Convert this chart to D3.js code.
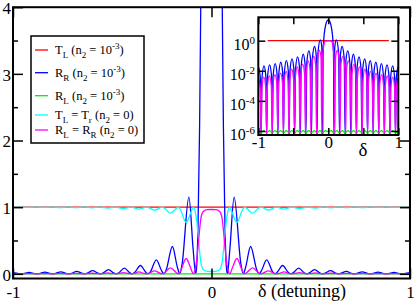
<!DOCTYPE html>
<html>
<head>
<meta charset="utf-8">
<script src="https://cdn.jsdelivr.net/npm/d3@7"></script>
<style>
  html, body { margin: 0; padding: 0; background: #fff; }
  svg { display: block; font-family: "Liberation Serif", "Times New Roman", Times, "DejaVu Serif", serif; }
  text { white-space: pre; }
</style>
</head>
<body>
<svg id="chart" width="415" height="305"></svg>
<script>
// ---- data (delta, value) ----
// T_L (n2 = 1e-3): flat at 1
var tL = [[-1, 1], [1, 1]];
var tLInset = [[-0.865, 1], [0.865, 1]];

// R_R (n2 = 1e-3)
var rR = [
  [-1.0, 0.018], [-0.999, 0.018], [-0.972, 0.0036], [-0.96, 0],
  [-0.948, 0.0032], [-0.919, 0.021], [-0.892, 0.0042], [-0.88, 0],
  [-0.868, 0.0038], [-0.839, 0.025], [-0.812, 0.005], [-0.80, 0],
  [-0.788, 0.0045], [-0.759, 0.03], [-0.732, 0.006], [-0.72, 0],
  [-0.708, 0.0055], [-0.679, 0.037], [-0.652, 0.0075], [-0.64, 0],
  [-0.628, 0.007], [-0.599, 0.047], [-0.572, 0.01], [-0.56, 0],
  [-0.548, 0.009], [-0.519, 0.062], [-0.492, 0.013], [-0.48, 0],
  [-0.468, 0.013], [-0.439, 0.085], [-0.412, 0.018], [-0.40, 0],
  [-0.388, 0.018], [-0.358, 0.125], [-0.332, 0.027], [-0.32, 0],
  [-0.308, 0.03], [-0.278, 0.21], [-0.252, 0.05], [-0.24, 0],
  [-0.228, 0.06], [-0.197, 0.41], [-0.172, 0.1], [-0.16, 0],
  [-0.148, 0.15], [-0.114, 1.15], [-0.092, 0.35], [-0.08, 0],
  [-0.075, 0.1], [-0.068, 0.7], [-0.06, 2.2], [-0.05, 5.3], [-0.04, 9.7],
  [-0.03, 14.8], [-0.02, 19.5], [-0.01, 22.8], [0, 24],
  [0.01, 22.8], [0.02, 19.5], [0.03, 14.8], [0.04, 9.7], [0.05, 5.3],
  [0.06, 2.2], [0.068, 0.7], [0.075, 0.1],
  [0.08, 0], [0.092, 0.35], [0.114, 1.15], [0.148, 0.15],
  [0.16, 0], [0.172, 0.1], [0.197, 0.41], [0.228, 0.06],
  [0.24, 0], [0.252, 0.05], [0.278, 0.21], [0.308, 0.03],
  [0.32, 0], [0.332, 0.027], [0.358, 0.125], [0.388, 0.018],
  [0.40, 0], [0.412, 0.018], [0.439, 0.085], [0.468, 0.013],
  [0.48, 0], [0.492, 0.013], [0.519, 0.062], [0.548, 0.009],
  [0.56, 0], [0.572, 0.01], [0.599, 0.047], [0.628, 0.007],
  [0.64, 0], [0.652, 0.0075], [0.679, 0.037], [0.708, 0.0055],
  [0.72, 0], [0.732, 0.006], [0.759, 0.03], [0.788, 0.0045],
  [0.80, 0], [0.812, 0.005], [0.839, 0.025], [0.868, 0.0038],
  [0.88, 0], [0.892, 0.0042], [0.919, 0.021], [0.948, 0.0032],
  [0.96, 0], [0.972, 0.0036], [0.999, 0.018], [1.0, 0.018]
];

// R_L (n2 = 1e-3): ~1e-6 with small ripples
var rL = [
  [-1.0, 1.0e-6], [-0.96, 0.78e-6], [-0.92, 1.05e-6], [-0.88, 0.78e-6], [-0.84, 1.05e-6],
  [-0.80, 0.78e-6], [-0.76, 1.05e-6], [-0.72, 0.78e-6], [-0.68, 1.05e-6], [-0.64, 0.78e-6],
  [-0.60, 1.05e-6], [-0.56, 0.78e-6], [-0.52, 1.05e-6], [-0.48, 0.78e-6], [-0.44, 1.05e-6],
  [-0.40, 0.78e-6], [-0.36, 1.05e-6], [-0.32, 0.78e-6], [-0.28, 1.05e-6], [-0.24, 0.78e-6],
  [-0.20, 1.05e-6], [-0.16, 0.78e-6], [-0.12, 1.05e-6], [-0.08, 0.78e-6], [-0.04, 1.05e-6],
  [0, 0.9e-6],
  [0.04, 1.05e-6], [0.08, 0.78e-6], [0.12, 1.05e-6], [0.16, 0.78e-6], [0.20, 1.05e-6],
  [0.24, 0.78e-6], [0.28, 1.05e-6], [0.32, 0.78e-6], [0.36, 1.05e-6], [0.40, 0.78e-6],
  [0.44, 1.05e-6], [0.48, 0.78e-6], [0.52, 1.05e-6], [0.56, 0.78e-6], [0.60, 1.05e-6],
  [0.64, 0.78e-6], [0.68, 1.05e-6], [0.72, 0.78e-6], [0.76, 1.05e-6], [0.80, 0.78e-6],
  [0.84, 1.05e-6], [0.88, 0.78e-6], [0.92, 1.05e-6], [0.96, 0.78e-6], [1.0, 1.0e-6]
];

// T_L = T_r (n2 = 0)
var tN0 = [
  [-1.0, 0.997], [-0.96, 1], [-0.921, 0.996], [-0.882, 1], [-0.842, 0.996], [-0.802, 1],
  [-0.762, 0.995], [-0.722, 1], [-0.682, 0.993], [-0.642, 1], [-0.602, 0.991], [-0.562, 1],
  [-0.523, 0.987], [-0.484, 1], [-0.444, 0.982], [-0.405, 1], [-0.366, 0.972], [-0.327, 1],
  [-0.287, 0.955], [-0.248, 1], [-0.236, 0.984], [-0.207, 0.91], [-0.18, 0.975], [-0.168, 1],
  [-0.156, 0.96], [-0.128, 0.77], [-0.104, 0.92], [-0.092, 1],
  [-0.082, 0.93], [-0.074, 0.78], [-0.067, 0.57], [-0.06, 0.34], [-0.053, 0.16],
  [-0.045, 0.08], [-0.035, 0.05], [-0.02, 0.038], [0, 0.035],
  [0.02, 0.038], [0.035, 0.05], [0.045, 0.08], [0.053, 0.16], [0.06, 0.34],
  [0.067, 0.57], [0.074, 0.78], [0.082, 0.93], [0.092, 1],
  [0.104, 0.92], [0.128, 0.77], [0.156, 0.96], [0.168, 1],
  [0.18, 0.975], [0.207, 0.91], [0.236, 0.984], [0.248, 1],
  [0.287, 0.955], [0.327, 1], [0.366, 0.972], [0.405, 1], [0.444, 0.982], [0.484, 1],
  [0.523, 0.987], [0.562, 1], [0.602, 0.991], [0.642, 1], [0.682, 0.993], [0.722, 1],
  [0.762, 0.995], [0.802, 1], [0.842, 0.996], [0.882, 1], [0.921, 0.996], [0.96, 1], [1.0, 0.997]
];

// R_L = R_R (n2 = 0)
var rN0 = [
  [-1.0, 0.0032], [-0.998, 0.0032], [-0.972, 0.0007], [-0.96, 0],
  [-0.948, 0.0007], [-0.921, 0.0038], [-0.894, 0.0008], [-0.882, 0],
  [-0.87, 0.0009], [-0.842, 0.0045], [-0.814, 0.001], [-0.802, 0],
  [-0.79, 0.001], [-0.762, 0.0055], [-0.734, 0.0012], [-0.722, 0],
  [-0.71, 0.0013], [-0.682, 0.007], [-0.654, 0.0015], [-0.642, 0],
  [-0.63, 0.0017], [-0.602, 0.009], [-0.574, 0.0019], [-0.562, 0],
  [-0.55, 0.0025], [-0.523, 0.013], [-0.496, 0.0027], [-0.484, 0],
  [-0.472, 0.0034], [-0.444, 0.018], [-0.417, 0.0038], [-0.405, 0],
  [-0.393, 0.005], [-0.366, 0.028], [-0.339, 0.006], [-0.327, 0],
  [-0.315, 0.008], [-0.287, 0.045], [-0.26, 0.011], [-0.248, 0],
  [-0.236, 0.016], [-0.207, 0.09], [-0.18, 0.025], [-0.168, 0],
  [-0.156, 0.04], [-0.128, 0.23], [-0.104, 0.08], [-0.092, 0],
  [-0.082, 0.07], [-0.074, 0.22], [-0.067, 0.43], [-0.06, 0.66], [-0.053, 0.84],
  [-0.045, 0.92], [-0.035, 0.95], [-0.02, 0.962], [0, 0.965],
  [0.02, 0.962], [0.035, 0.95], [0.045, 0.92], [0.053, 0.84], [0.06, 0.66],
  [0.067, 0.43], [0.074, 0.22], [0.082, 0.07], [0.092, 0],
  [0.104, 0.08], [0.128, 0.23], [0.156, 0.04], [0.168, 0],
  [0.18, 0.025], [0.207, 0.09], [0.236, 0.016], [0.248, 0],
  [0.26, 0.011], [0.287, 0.045], [0.315, 0.008], [0.327, 0],
  [0.339, 0.006], [0.366, 0.028], [0.393, 0.005], [0.405, 0],
  [0.417, 0.0038], [0.444, 0.018], [0.472, 0.0034], [0.484, 0],
  [0.496, 0.0027], [0.523, 0.013], [0.55, 0.0025], [0.562, 0],
  [0.574, 0.0019], [0.602, 0.009], [0.63, 0.0017], [0.642, 0],
  [0.654, 0.0015], [0.682, 0.007], [0.71, 0.0013], [0.722, 0],
  [0.734, 0.0012], [0.762, 0.0055], [0.79, 0.001], [0.802, 0],
  [0.814, 0.001], [0.842, 0.0045], [0.87, 0.0009], [0.882, 0],
  [0.894, 0.0008], [0.921, 0.0038], [0.948, 0.0007], [0.96, 0],
  [0.972, 0.0007], [0.998, 0.0032], [1.0, 0.0032]
];

var xTicksMain = [-1, 0, 1];
var yTicksMain = [0, 1, 2, 3, 4];
var yMinorMain = [0.5, 1.5, 2.5, 3.5];
var xTicksInset = [-1, -0.5, 0, 0.5, 1];
var xLabelsInset = [-1, 0, 1];
var insetExponents = [0, -2, -4, -6];

var legendLabels = [
  [["T", ""], ["L", "sub"], [" (n", ""], ["2", "sub"], [" = 10", ""], ["-3", "sup"], [")", ""]],
  [["R", ""], ["R", "sub"], [" (n", ""], ["2", "sub"], [" = 10", ""], ["-3", "sup"], [")", ""]],
  [["R", ""], ["L", "sub"], [" (n", ""], ["2", "sub"], [" = 10", ""], ["-3", "sup"], [")", ""]],
  [["T", ""], ["L", "sub"], [" = T", ""], ["r", "sub"], [" (n", ""], ["2", "sub"], [" = 0)", ""]],
  [["R", ""], ["L", "sub"], [" = R", ""], ["R", "sub"], [" (n", ""], ["2", "sub"], [" = 0)", ""]]
];
var colors = ["#ff0000", "#0000ff", "#00ee00", "#00ffff", "#ff00ff"];

var serif = "'Liberation Serif', 'Times New Roman', Times, 'DejaVu Serif', serif";

// ---- chart ----
var svg = d3.select("#chart");
var defs = svg.append("defs");

var x = d3.scaleLinear().domain([-1, 1]).range([13, 410]);
var y = d3.scaleLinear().domain([-0.07, 4]).range([278.5, 7.2]);

defs.append("clipPath").attr("id", "mainClip")
  .append("rect").attr("x", 13).attr("y", 7.2).attr("width", 397).attr("height", 271.3);

var line = d3.line().x(d => x(d[0])).y(d => y(d[1])).curve(d3.curveMonotoneX);

var plot = svg.append("g").attr("clip-path", "url(#mainClip)");
[tL, rR, rL, tN0, rN0].forEach(function (s, i) {
  plot.append("path").datum(s)
    .attr("d", line)
    .attr("fill", "none")
    .attr("stroke", colors[i])
    .attr("stroke-width", 1.3);
});

function styleAxis(g, size) {
  g.select(".domain").remove();
  g.selectAll(".tick line").attr("stroke", "#000").attr("stroke-width", 1.5);
  g.selectAll(".tick text").attr("fill", "#000").attr("font-size", size)
    .style("font-family", serif);
}

// main axes
var gb = svg.append("g").attr("transform", "translate(0,278.5)")
  .call(d3.axisBottom(x).tickValues(xTicksMain).tickSize(-10).tickPadding(7).tickFormat(d => String(d)));
styleAxis(gb, 17);
var gt = svg.append("g").attr("transform", "translate(0,7.2)")
  .call(d3.axisTop(x).tickValues(xTicksMain).tickSize(-10).tickFormat(""));
styleAxis(gt, 17);
var gl = svg.append("g").attr("transform", "translate(13,0)")
  .call(d3.axisLeft(y).tickValues(yTicksMain).tickSize(-10).tickPadding(2).tickFormat(d => String(d)));
styleAxis(gl, 17);
gl.selectAll(".tick text").attr("dy", "0.38em");
var glm = svg.append("g").attr("transform", "translate(13,0)")
  .call(d3.axisLeft(y).tickValues(yMinorMain).tickSize(-5).tickFormat(""));
styleAxis(glm, 17);
var gr = svg.append("g").attr("transform", "translate(410,0)")
  .call(d3.axisRight(y).tickValues(yTicksMain).tickSize(-10).tickFormat(""));
styleAxis(gr, 17);
var grm = svg.append("g").attr("transform", "translate(410,0)")
  .call(d3.axisRight(y).tickValues(yMinorMain).tickSize(-5).tickFormat(""));
styleAxis(grm, 17);

svg.append("rect").attr("x", 13).attr("y", 7.2).attr("width", 397).attr("height", 271.3)
  .attr("fill", "none").attr("stroke", "#000").attr("stroke-width", 2);

svg.append("text").attr("x", 302).attr("y", 297).attr("text-anchor", "middle")
  .attr("font-size", 18).style("font-family", serif).text("\u03b4 (detuning)");

// legend
var leg = svg.append("g");
leg.append("rect").attr("x", 31).attr("y", 36).attr("width", 113).attr("height", 107)
  .attr("fill", "#fff").attr("stroke", "#000").attr("stroke-width", 1.5);
var rowY = [50, 72.7, 95.7, 115, 130];

function richText(t, parts, small) {
  var shift = 0;
  parts.forEach(function (p) {
    var target = p[1] === "sub" ? 3.5 : p[1] === "sup" ? -5 : 0;
    var ts = t.append("tspan").attr("dy", target - shift).text(p[0]);
    if (p[1]) ts.attr("font-size", small);
    shift = target;
  });
}

legendLabels.forEach(function (parts, i) {
  leg.append("line").attr("x1", 35).attr("x2", 48).attr("y1", rowY[i]).attr("y2", rowY[i])
    .attr("stroke", colors[i]).attr("stroke-width", 1.3);
  var t = leg.append("text").attr("x", 55).attr("y", rowY[i] + 4.3).attr("font-size", 12.5)
    .style("font-family", serif);
  richText(t, parts, 9);
});

// ---- inset ----
var xi = d3.scaleLinear().domain([-1, 1]).range([258.3, 398.3]);
var yi = d3.scaleLog().domain([Math.pow(10, -6.27), Math.pow(10, 1.555)]).range([135, 17.3]).clamp(true);

svg.append("rect").attr("x", 258.3).attr("y", 17.3).attr("width", 140).attr("height", 117.7)
  .attr("fill", "#fff");
defs.append("clipPath").attr("id", "insetClip")
  .append("rect").attr("x", 258.3).attr("y", 17.3).attr("width", 140).attr("height", 117.7);

var lineI = d3.line().x(d => xi(d[0])).y(d => yi(Math.max(d[1], 1e-9))).curve(d3.curveMonotoneX);
var inset = svg.append("g").attr("clip-path", "url(#insetClip)");
[[tLInset, 0], [rR, 1], [rL, 2], [rN0, 4]].forEach(function (s) {
  inset.append("path").datum(s[0])
    .attr("d", lineI)
    .attr("fill", "none")
    .attr("stroke", colors[s[1]])
    .attr("stroke-width", 1.3);
});

var insetYVals = insetExponents.map(e => Math.pow(10, e));
var ib = svg.append("g").attr("transform", "translate(0,135)")
  .call(d3.axisBottom(xi).tickValues(xTicksInset).tickSize(-7).tickPadding(1)
    .tickFormat(d => xLabelsInset.indexOf(d) >= 0 ? String(d) : ""));
styleAxis(ib, 17);
var it = svg.append("g").attr("transform", "translate(0,17.3)")
  .call(d3.axisTop(xi).tickValues(xTicksInset).tickSize(-7).tickFormat(""));
styleAxis(it, 17);
var il = svg.append("g").attr("transform", "translate(258.3,0)")
  .call(d3.axisLeft(yi).tickValues(insetYVals).tickSize(-7).tickFormat(""));
styleAxis(il, 17);
var ir = svg.append("g").attr("transform", "translate(398.3,0)")
  .call(d3.axisRight(yi).tickValues(insetYVals).tickSize(-7).tickFormat(""));
styleAxis(ir, 17);

insetExponents.forEach(function (e) {
  var t = svg.append("text").attr("x", 255).attr("y", yi(Math.pow(10, e)) + 9.5)
    .attr("text-anchor", "end").attr("font-size", 16).style("font-family", serif);
  t.append("tspan").text("10");
  t.append("tspan").attr("font-size", 11).attr("dy", -6.5).text(String(e));
});

svg.append("rect").attr("x", 258.3).attr("y", 17.3).attr("width", 140).attr("height", 117.7)
  .attr("fill", "none").attr("stroke", "#000").attr("stroke-width", 2);

svg.append("text").attr("x", 363).attr("y", 156).attr("text-anchor", "middle")
  .attr("font-size", 19).style("font-family", serif).text("\u03b4");
</script>
</body>
</html>
